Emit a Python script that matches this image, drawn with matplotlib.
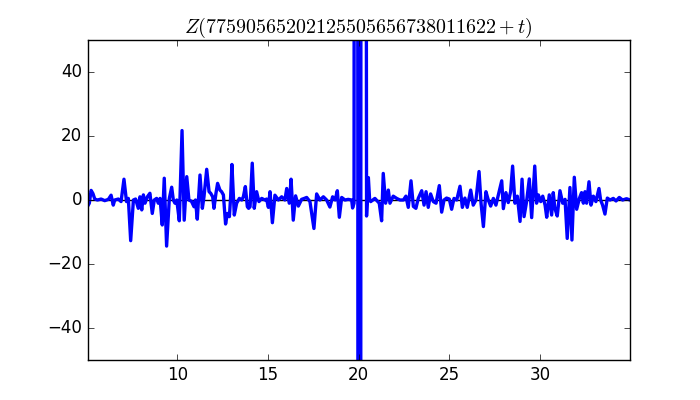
import matplotlib
matplotlib.use("Agg")
import matplotlib.pyplot as plt

plt.style.use("classic")
plt.rcParams["mathtext.fontset"] = "cm"

# values: t and Z(t), ten per row
t = [5.05, 5.15, 5.25, 5.35, 5.45, 5.6, 5.8, 6.0, 6.2, 6.35,
     6.47, 6.55, 6.75, 6.9, 7.06, 7.2, 7.3, 7.43, 7.58, 7.7,
     7.85, 7.94, 8.04, 8.13, 8.22, 8.35, 8.49, 8.62, 8.73, 8.86,
     8.95, 9.05, 9.17, 9.28, 9.41, 9.56, 9.69, 9.78, 9.87, 9.97,
     10.11, 10.26, 10.38, 10.52, 10.64, 10.78, 10.92, 11.0, 11.10, 11.25,
     11.38, 11.47, 11.62, 11.75, 11.84, 11.95, 12.02, 12.13, 12.22, 12.35,
     12.44, 12.54, 12.66, 12.76, 12.87, 12.94, 13.01, 13.14, 13.27, 13.42,
     13.55, 13.64, 13.75, 13.86, 13.93, 14.01, 14.13, 14.24, 14.37, 14.50,
     14.65, 14.83, 14.92, 15.02, 15.11, 15.24, 15.38, 15.57, 15.75, 15.93,
     16.03, 16.17, 16.27, 16.39, 16.52, 16.67, 16.85, 17.0, 17.13, 17.31,
     17.53, 17.68, 17.86, 18.05, 18.23, 18.41, 18.56, 18.7, 18.82, 18.93,
     19.06, 19.24, 19.42, 19.61, 19.66, 19.74, 19.86, 20.04, 20.19, 20.43,
     20.53, 20.6, 20.66, 20.89, 21.13, 21.26, 21.35, 21.48, 21.63, 21.72,
     21.90, 22.09, 22.27, 22.46, 22.60, 22.73, 22.88, 23.01, 23.15, 23.28,
     23.47, 23.60, 23.71, 23.83, 23.96, 24.11, 24.26, 24.44, 24.57, 24.70,
     24.84, 24.99, 25.12, 25.25, 25.40, 25.58, 25.71, 25.85, 25.98, 26.17,
     26.31, 26.46, 26.63, 26.74, 26.87, 27.01, 27.14, 27.27, 27.42, 27.56,
     27.75, 27.88, 27.97, 28.11, 28.24, 28.37, 28.48, 28.61, 28.74, 28.89,
     29.00, 29.11, 29.25, 29.40, 29.53, 29.70, 29.80, 29.90, 30.03, 30.14,
     30.27, 30.36, 30.50, 30.63, 30.72, 30.81, 30.94, 31.09, 31.24, 31.37,
     31.49, 31.64, 31.75, 31.88, 32.01, 32.16, 32.28, 32.38, 32.47, 32.56,
     32.69, 32.80, 32.93, 33.07, 33.24, 33.33, 33.44, 33.57, 33.70, 33.85,
     34.03, 34.18, 34.36, 34.54, 34.76, 34.95]
z = [-2.0, -1.0, 3.0, 2.0, 0.3, 0.0, 0.3, -0.2, 0.2, 1.5,
     -1.6, 0.0, 0.3, -0.5, 6.5, -0.5, 0.5, -12.7, 0.0, 0.3,
     -2.6, 1.0, -3.1, 1.6, -1.0, 1.0, 2.1, -4.2, 0.0, 0.5,
     -1.0, 0.5, -7.8, 6.8, -14.4, 0.5, 4.0, 0.0, -1.0, 0.0,
     -6.5, 21.7, -6.3, 7.3, 0.0, -0.4, -2.1, 0.0, -6.0, 7.8,
     -2.6, 1.0, 9.6, 2.6, 2.1, 1.0, -2.6, 2.1, 5.2, 3.1,
     2.6, 1.6, -7.5, -4.2, -5.2, 1.0, 11.1, -4.7, -1.0, 0.5,
     0.0, 1.0, 4.2, -2.1, -2.6, -2.1, 11.5, -2.6, 2.6, -0.5,
     0.5, 0.0, 0.3, -2.3, 2.6, -7.1, 1.5, 0.0, 1.0, 0.0,
     3.6, -1.0, 6.5, -6.3, 1.3, -1.9, 0.2, 0.5, 0.8, -0.5,
     -8.9, 1.9, 0.0, 1.0, 0.0, -2.2, 1.0, 0.0, 2.9, -5.4,
     0.8, 0.0, 0.2, 0.0, -2.5, -1.0, 1500.0, -1500.0, 1500.0, -5.0,
     7.0, 0.0, -0.5, 0.5, -1.0, -6.5, 8.3, -1.0, 3.1, -1.0,
     1.2, 0.5, 0.0, 0.0, 1.2, -2.3, 6.0, -2.0, -2.6, 0.5,
     2.9, -1.6, 2.6, -2.3, 1.9, -0.5, -1.0, 4.5, -3.8, 0.0,
     0.6, 0.3, -2.9, 0.5, 0.0, 4.3, -2.3, 0.6, -2.3, 3.1,
     -1.6, 0.0, 8.9, -1.0, -8.3, 2.6, 0.0, -1.9, 0.5, -1.6,
     2.9, 6.0, -2.7, 2.3, -0.8, 2.6, 10.6, -1.0, 1.2, -6.7,
     6.5, -5.2, -0.5, 6.6, -5.5, 10.6, -1.0, 1.6, -0.5, 1.2,
     -1.6, -5.4, 1.6, -4.7, 2.3, -2.6, -5.0, 2.9, -1.0, 0.2,
     -12.0, 3.9, -12.5, 7.1, -2.9, 0.5, 2.3, -1.0, 2.6, -1.0,
     5.7, -1.6, 1.2, -0.5, 3.6, 0.0, -1.6, -4.4, 0.6, 0.0,
     0.5, -0.3, 0.8, 0.0, 0.4, 0.0]

fig = plt.figure(figsize=(7, 4), dpi=100, facecolor="white")
ax = fig.add_subplot(111)

ax.axhline(0, color="k", lw=1, zorder=1)
ax.plot(t, z, color="b", lw=2.4, zorder=2)

ax.set_xlim(5.05, 34.95)
ax.set_ylim(-50, 50)
ax.set_xticks([10, 15, 20, 25, 30])
ax.set_yticks([-40, -20, 0, 20, 40])
ax.set_title(r"$Z(77590565202125505656738011622+t)$")

fig.savefig("out.png", dpi=100, facecolor="white")
